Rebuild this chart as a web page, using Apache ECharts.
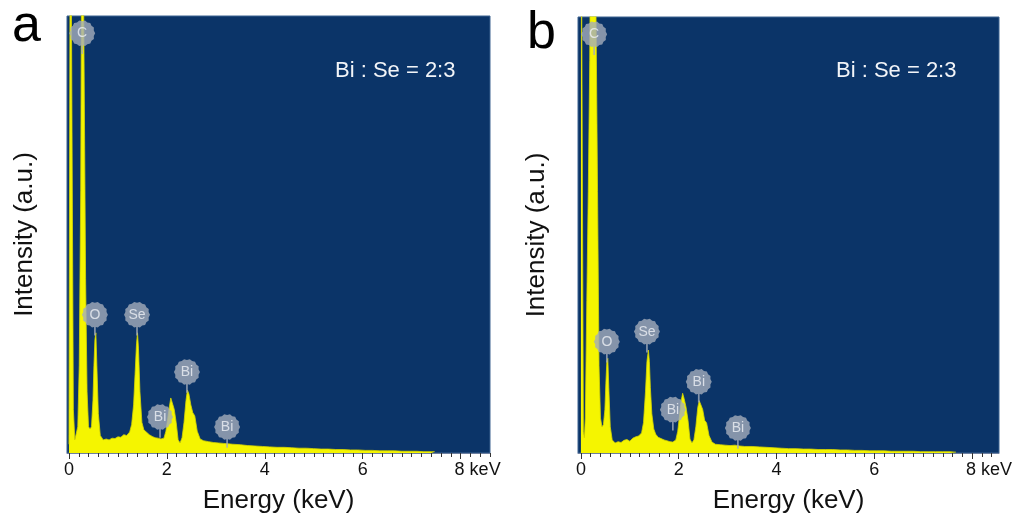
<!DOCTYPE html>
<html>
<head>
<meta charset="utf-8">
<script src="https://cdn.jsdelivr.net/npm/echarts@6/dist/echarts.min.js"></script>
<style>
  html, body { margin: 0; padding: 0; background: #fff; }
  #chart { width: 1022px; height: 522px; }
</style>
</head>
<body>
<div id="chart"></div>
<script>
// ---- data ----
const tickLabels = [0, 2, 4, 6, 8];

const energyA = [0, 0.03, 0.05, 0.07, 0.09, 0.12, 0.15, 0.18, 0.21, 0.24, 0.27, 0.29, 0.31, 0.34, 0.37, 0.40,
  0.43, 0.46, 0.49, 0.51, 0.53, 0.55, 0.57, 0.60, 0.64, 0.70, 0.76, 0.82, 0.88, 0.94, 1.00, 1.06, 1.12, 1.18,
  1.24, 1.28, 1.32, 1.35, 1.38, 1.40, 1.42, 1.45, 1.49, 1.53, 1.58, 1.64, 1.70, 1.76, 1.82, 1.88, 1.94, 1.98,
  2.02, 2.05, 2.08, 2.11, 2.15, 2.19, 2.23, 2.27, 2.31, 2.35, 2.39, 2.42, 2.45, 2.49, 2.53, 2.57, 2.62, 2.68,
  2.75, 2.85, 2.95, 3.05, 3.15, 3.25, 3.35, 3.5, 3.65, 3.8, 3.95, 4.1, 4.25, 4.4, 4.55, 4.7, 4.85, 5.0, 5.15,
  5.3, 5.45, 5.6, 5.75, 5.9, 6.05, 6.2, 6.35, 6.5, 6.65, 6.8, 6.95, 7.1, 7.25, 7.4, 7.47];
const countsA = [2, 150, 150, 150, 10, 3, 3, 6, 20, 60, 150, 150, 150, 40, 14, 6,
  5.5, 6, 12, 20, 26, 27.5, 20, 9, 4, 3, 3.2, 3, 3.4, 3.3, 3.7, 3.6, 4.2, 4,
  4.8, 6.5, 11, 18, 25, 27.5, 24, 14, 7, 5.3, 4.8, 4.2, 3.8, 3.5, 3.4, 3.2, 3.4, 5,
  8, 10.5, 12.6, 11.5, 10, 7, 3, 2.3, 3.5, 7, 12, 14.4, 13.5, 11, 9.2, 8.5, 5, 3.2,
  2.8, 2.6, 2.4, 2.3, 2.2, 2.1, 2.0, 1.9, 1.7, 1.6, 1.5, 1.4, 1.3, 1.3, 1.2, 1.1, 1.1, 1.0, 0.9,
  0.9, 0.8, 0.8, 0.7, 0.7, 0.6, 0.6, 0.5, 0.5, 0.5, 0.4, 0.4, 0.4, 0.3, 0.3, 0.3];

const energyB = [0, 0.03, 0.05, 0.07, 0.09, 0.12, 0.15, 0.18, 0.21, 0.24, 0.27, 0.29, 0.31, 0.34, 0.37, 0.40,
  0.43, 0.46, 0.49, 0.51, 0.53, 0.55, 0.57, 0.60, 0.64, 0.70, 0.76, 0.82, 0.88, 0.94, 1.00, 1.06, 1.12, 1.18,
  1.24, 1.28, 1.32, 1.35, 1.38, 1.40, 1.42, 1.45, 1.49, 1.53, 1.58, 1.64, 1.70, 1.76, 1.82, 1.88, 1.94, 1.98,
  2.02, 2.05, 2.08, 2.11, 2.15, 2.19, 2.23, 2.27, 2.31, 2.35, 2.39, 2.42, 2.45, 2.49, 2.53, 2.57, 2.62, 2.68,
  2.75, 2.85, 2.95, 3.05, 3.15, 3.25, 3.35, 3.5, 3.65, 3.8, 3.95, 4.1, 4.25, 4.4, 4.55, 4.7, 4.85, 5.0, 5.15,
  5.3, 5.45, 5.6, 5.75, 5.9, 6.05, 6.2, 6.35, 6.5, 6.65, 6.8, 6.95, 7.1, 7.25, 7.4, 7.55, 7.67];
const countsB = [150, 150, 5, 3.5, 8, 35, 60, 90, 150, 150, 150, 150, 150, 60, 20, 8,
  6, 6.5, 10, 16, 21, 21.7, 15, 6, 3, 2.3, 2.6, 2.4, 2.9, 3.1, 2.7, 3.4, 3.7, 3.9,
  4.6, 7, 14, 21, 23.6, 21, 15, 9, 5.5, 4.3, 3.6, 3.3, 3.0, 2.8, 2.6, 2.5, 3.0, 5,
  9, 12, 13.7, 12.5, 10.5, 7.5, 3.2, 2.3, 3, 6, 10.5, 12, 12.1, 10, 7.5, 6.9, 4, 2.5,
  2.0, 1.9, 1.8, 1.7, 1.8, 1.6, 1.5, 1.5, 1.4, 1.3, 1.2, 1.1, 1.0, 1.0, 0.9, 0.9, 0.8, 0.8, 0.8,
  0.7, 0.7, 0.6, 0.6, 0.5, 0.5, 0.5, 0.4, 0.4, 0.4, 0.4, 0.3, 0.3, 0.3, 0.3, 0.3, 0.2];

// element markers: name, energy (keV), badge height
const peakNames = ['C', 'O', 'Se', 'Bi', 'Bi', 'Bi'];
const peakEnergyA = [0.27, 0.53, 1.39, 2.41, 1.86, 3.23];
const peakHeightA = [96, 31.6, 31.6, 18.5, 8.2, 5.9];
const peakEnergyB = [0.27, 0.53, 1.35, 2.41, 1.88, 3.21];
const peakHeightB = [96, 25.5, 27.8, 16.3, 9.9, 5.7];

const ratioText = 'Bi : Se = 2:3';

// ---- styling ----
const FONT = '"Liberation Sans", Arial, sans-serif';
const PLOT_BG = '#0b3468';
const YELLOW = '#f5f500';

// toothed round badge with a short stem underneath (like the EDS software markers)
function badgePath() {
  const teeth = 14;
  let d = '';
  for (let i = 0; i < teeth * 2; i++) {
    const a = (i / (teeth * 2)) * Math.PI * 2;
    const r = i % 2 ? 11 : 12;
    d += (i ? 'L' : 'M') + (12 + r * Math.cos(a)).toFixed(2) + ' ' + (12 + r * Math.sin(a)).toFixed(2) + ' ';
  }
  d += 'Z M11.2 22 L12.8 22 L12.8 31 L11.2 31 Z';
  return 'path://' + d;
}
const BADGE = badgePath();

function minorTicks(max) {
  const out = [];
  for (let k = 0; k * 0.2 <= max + 1e-9; k++) out.push(+(k * 0.2).toFixed(1));
  return out;
}

function panel(i, box, xMin, xMax, energy, counts, pE, pH, yNameGap) {
  const grid = {
    left: box.left, top: box.top, width: box.width, height: box.height,
    outerBoundsMode: 'none', containLabel: false,
    show: true, backgroundColor: PLOT_BG, borderColor: '#3d6290', borderWidth: 1
  };
  const xMinor = {
    type: 'value', gridIndex: i, position: 'bottom', min: xMin, max: xMax,
    axisLine: { show: true, onZero: false, lineStyle: { color: '#6d7fa0', width: 1 } },
    axisTick: { show: true, length: 4, customValues: minorTicks(xMax), lineStyle: { color: '#333' } },
    axisLabel: { show: false },
    splitLine: { show: false }
  };
  const xMajor = {
    type: 'value', gridIndex: i, position: 'bottom', offset: 0, min: xMin, max: xMax,
    axisLine: { show: false, onZero: false },
    axisTick: { show: true, length: 6, customValues: tickLabels, lineStyle: { color: '#333' } },
    axisLabel: {
      customValues: tickLabels, fontSize: 18, color: '#111', fontFamily: FONT, margin: 8,
      formatter: v => (v === 8 ? '{pad|}8 keV' : String(v)),
      rich: { pad: { width: 34 } }
    },
    splitLine: { show: false },
    name: 'Energy (keV)', nameLocation: 'middle', nameGap: 35,
    nameTextStyle: { fontSize: 26, color: '#111', fontFamily: FONT }
  };
  const y = {
    type: 'value', gridIndex: i, min: 0, max: 100,
    axisLine: { show: false }, axisTick: { show: false }, axisLabel: { show: false },
    splitLine: { show: false },
    name: 'Intensity (a.u.)', nameLocation: 'middle', nameGap: yNameGap,
    nameTextStyle: { fontSize: 26, color: '#111', fontFamily: FONT }
  };
  const spectrum = {
    type: 'line', xAxisIndex: i * 2, yAxisIndex: i,
    data: energy.map((e, k) => [e, counts[k]]),
    symbol: 'none', clip: true, silent: true,
    lineStyle: { color: '#d6d600', width: 0.8 },
    areaStyle: { color: YELLOW, opacity: 1, origin: 'start' },
    z: 2
  };
  const markers = {
    type: 'scatter', xAxisIndex: i * 2, yAxisIndex: i,
    data: peakNames.map((n, k) => ({ name: n, value: [pE[k], pH[k]] })),
    symbol: BADGE, symbolSize: [26, 33.6], symbolOffset: [0, 3.8],
    itemStyle: { color: '#a4acba' },
    label: {
      show: true, position: 'inside', offset: [0, -3.8], formatter: '{b}',
      color: '#eef0f5', fontSize: 14, fontFamily: FONT
    },
    silent: true, clip: false, z: 5
  };
  return { grid, xAxis: [xMinor, xMajor], yAxis: y, series: [spectrum, markers] };
}

const pA = panel(0, { left: 67, top: 16, width: 423, height: 437 }, -0.04, 8.6, energyA, countsA, peakEnergyA, peakHeightA, 29);
const pB = panel(1, { left: 578, top: 17, width: 421, height: 436 }, -0.06, 8.55, energyB, countsB, peakEnergyB, peakHeightB, 28);

const chart = echarts.init(document.getElementById('chart'), null, { renderer: 'canvas' });
chart.setOption({
  animation: false,
  backgroundColor: '#fff',
  textStyle: { fontFamily: FONT },
  grid: [pA.grid, pB.grid],
  xAxis: [...pA.xAxis, ...pB.xAxis],
  yAxis: [pA.yAxis, pB.yAxis],
  series: [...pA.series, ...pB.series],
  graphic: [
    { type: 'text', x: 12, y: 27, style: { text: 'a', fontSize: 52, fill: '#000', fontFamily: FONT, textVerticalAlign: 'middle' } },
    { type: 'text', x: 527, y: 34, style: { text: 'b', fontSize: 52, fill: '#000', fontFamily: FONT, textVerticalAlign: 'middle' } },
    { type: 'text', x: 335, y: 71, z: 10, style: { text: ratioText, fontSize: 22, fill: '#f2f4f8', fontFamily: FONT, textVerticalAlign: 'middle' } },
    { type: 'text', x: 836, y: 71, z: 10, style: { text: ratioText, fontSize: 22, fill: '#f2f4f8', fontFamily: FONT, textVerticalAlign: 'middle' } }
  ]
});
</script>
</body>
</html>
